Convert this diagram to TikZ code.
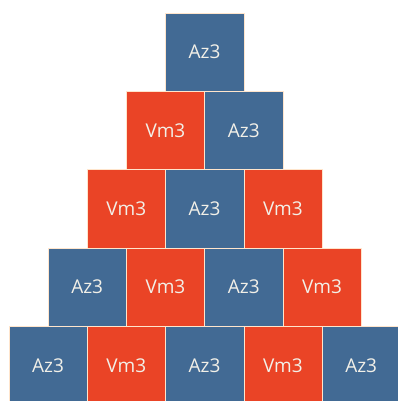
\documentclass[tikz,border=0pt]{standalone}
\usepackage{fontspec}
\setmainfont{Open Sans}
\usetikzlibrary{positioning}
\definecolor{azul}{RGB}{66,106,148}
\definecolor{vermelho}{RGB}{234,68,38}
\definecolor{letra}{RGB}{242,240,232}

\begin{document}
\begin{tikzpicture}[
      node distance=0pt,
      tile/.style={rectangle, minimum size=78.3pt, inner sep=0pt, outer sep=0pt, draw=white!80!orange, line width=0.4pt, text=letra, font=\fontsize{19}{22}\selectfont},
      az/.style={tile, fill=azul},
      vm/.style={tile, fill=vermelho}
  ]
  \useasboundingbox (0,0) rectangle (397pt,-401pt);
  % Top
  \node[az] (c11) at (204.6pt,-52.2pt) {Az3};
  % Row 2
  \node[vm, below=of c11.south west] (c21) {Vm3};
  \node[az, right=of c21] (c22) {Az3};
  % Row 3
  \node[vm, below=of c21.south west] (c31) {Vm3};
  \node[az, right=of c31] (c32) {Az3};
  \node[vm, right=of c32] (c33) {Vm3};
  % Row 4
  \node[az, below=of c31.south west] (c41) {Az3};
  \node[vm, right=of c41] (c42) {Vm3};
  \node[az, right=of c42] (c43) {Az3};
  \node[vm, right=of c43] (c44) {Vm3};
  % Bottom
  \node[az, below=of c41.south west] (c51) {Az3};
  \node[vm, right=of c51] (c52) {Vm3};
  \node[az, right=of c52] (c53) {Az3};
  \node[vm, right=of c53] (c54) {Vm3};
  \node[az, right=of c54] (c55) {Az3};
\end{tikzpicture}
\end{document}
